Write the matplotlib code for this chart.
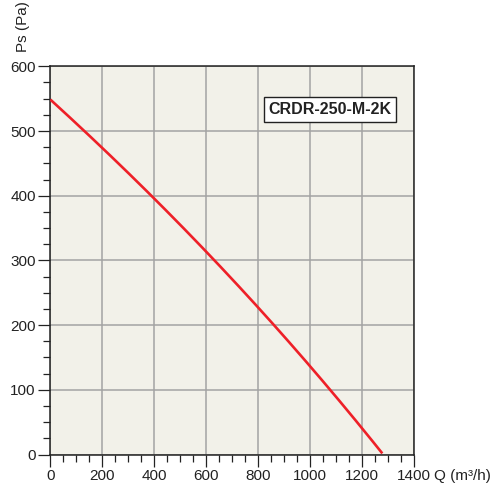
import numpy as np
import matplotlib.pyplot as plt
from matplotlib.ticker import MultipleLocator

plt.rcParams['font.family'] = ['Liberation Sans', 'DejaVu Sans']

# fan curve
flow = [0, 200, 400, 600, 800, 1000, 1200, 1277]
pressure = [548, 475, 396, 312, 226, 137, 42, 0]
model = 'CRDR-250-M-2K'

# smooth the curve through the read points
q = np.linspace(flow[0], flow[-1], 200)
coef = np.polyfit(flow, pressure, 3)
p = np.polyval(coef, q)

fig = plt.figure(figsize=(4.9, 4.92), dpi=100)
ax = fig.add_axes([0.1027, 0.0762, 0.7428, 0.7890])
ax.set_facecolor('#f2f1e9')

ax.plot(q, p, color='#ee2028', lw=1.9, solid_capstyle='butt', zorder=3)

ax.set_xlim(0, 1400)
ax.set_ylim(0, 600)
ax.xaxis.set_major_locator(MultipleLocator(200))
ax.xaxis.set_minor_locator(MultipleLocator(50))
ax.yaxis.set_major_locator(MultipleLocator(100))
ax.yaxis.set_minor_locator(MultipleLocator(25))
ax.grid(True, which='major', color='#a3a3a3', lw=1.1, zorder=1)

ax.tick_params(which='major', direction='out', length=8.5, width=0.9,
               color='#222222', labelsize=11, pad=2, labelcolor='#222222')
ax.tick_params(which='minor', direction='out', length=5, width=0.9, color='#222222')
ax.tick_params(top=False, right=False)

for s in ax.spines.values():
    s.set_color('#222222')
    s.set_linewidth(1.1)

fig.text(0.047, 0.945, 'Ps (Pa)', rotation=90, ha='center', va='center',
         fontsize=11, color='#222222')
fig.text(0.886, 0.032, 'Q (m³/h)', ha='left', va='center',
         fontsize=11, color='#222222')

ax.text(1076, 533, model, ha='center', va='center', fontsize=11.5,
        fontweight='bold', color='#222222', zorder=4,
        bbox=dict(boxstyle='square,pad=0.3', fc='white', ec='#222222', lw=1.0))

plt.savefig('out.png', dpi=100)
